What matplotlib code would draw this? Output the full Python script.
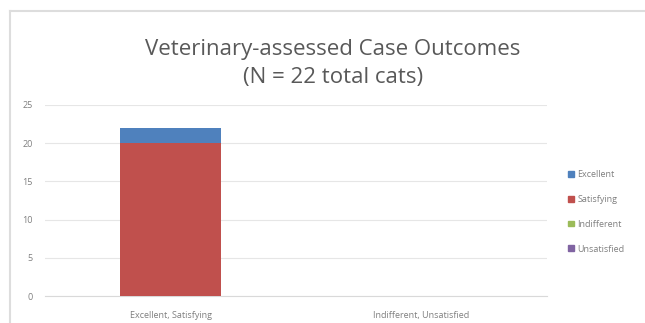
import matplotlib.pyplot as plt
from matplotlib import patches
from matplotlib.lines import Line2D

# Data
categories = ["Excellent, Satisfying", "Indifferent, Unsatisfied"]
series_names = ["Unsatisfied", "Indifferent", "Satisfying", "Excellent"]
series_values = {
    "Unsatisfied": [0, 0],
    "Indifferent": [0, 0],
    "Satisfying": [20, 0],
    "Excellent": [2, 0],
}
series_colors = {
    "Excellent": "#4F81BD",
    "Satisfying": "#C0504D",
    "Indifferent": "#9BBB59",
    "Unsatisfied": "#8064A2",
}
y_ticks = [0, 5, 10, 15, 20, 25]

plt.rcParams['font.family'] = ['Open Sans', 'DejaVu Sans']

fig = plt.figure(figsize=(6.45, 3.23), dpi=100)
ax = fig.add_axes([45/645, 1-296/323, 502/645, 191/323])

x = list(range(len(categories)))
bottom = [0] * len(categories)
for name in series_names:
    vals = series_values[name]
    ax.bar(x, vals, width=0.4, bottom=bottom, color=series_colors[name], zorder=3)
    bottom = [b + v for b, v in zip(bottom, vals)]

ax.set_xlim(-0.5, 1.5)
ax.set_ylim(0, 25)
ax.set_yticks(y_ticks)
ax.set_xticks(x)
ax.set_xticklabels(categories)
ax.tick_params(length=0, labelsize=6.5, colors="#7F7F7F", pad=11)
ax.tick_params(axis="y", pad=9)
ax.grid(axis="y", color="#E6E6E6", lw=0.8, zorder=0)
for s in ["top", "right", "left"]:
    ax.spines[s].set_visible(False)
ax.spines["bottom"].set_color("#D9D9D9")

# Title
fig.text(333/645, 1-50/323, "Veterinary-assessed Case Outcomes", ha="center", va="center",
         fontsize=16, color="#595959")
fig.text(333/645, 1-77/323, "(N = 22 total cats)", ha="center", va="center",
         fontsize=16, color="#595959")

# Legend, top of the stack first
handles = [patches.Patch(color=series_colors[n]) for n in reversed(series_names)]
fig.legend(handles, list(reversed(series_names)), loc="upper left",
           bbox_to_anchor=(560/645, 1-162/323), frameon=False, fontsize=6.5,
           labelcolor="#7F7F7F", handlelength=0.6, handleheight=0.6,
           handletextpad=0.4, labelspacing=1.75)

# Light frame edge on top and left
fig.add_artist(Line2D([10/645, 1], [1-11/323, 1-11/323], color="#DDDDDD", lw=1.5))
fig.add_artist(Line2D([10/645, 10/645], [0, 1-11/323], color="#DDDDDD", lw=1.5))

fig.savefig("out.png", dpi=100)
